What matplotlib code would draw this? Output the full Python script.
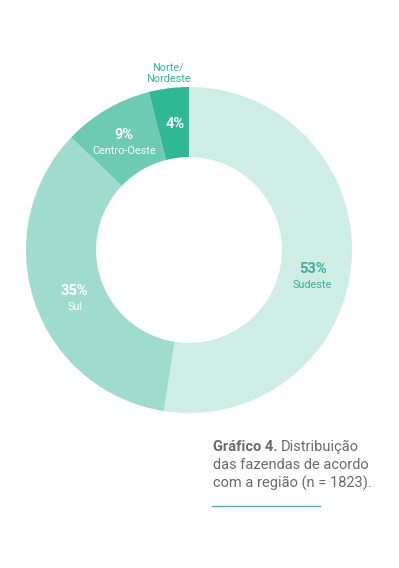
import numpy as np
import matplotlib.pyplot as plt

regioes = ['Sudeste', 'Sul', 'Centro-Oeste', 'Norte/\nNordeste']
percentuais = [53, 35, 9, 4]
cores = ['#cdede5', '#9fdccd', '#6dcbb3', '#30b896']
cor_pct = ['#3fae95', 'white', 'white', 'white']

plt.rcParams['font.family'] = ['Roboto', 'DejaVu Sans']

fig = plt.figure(figsize=(3.99, 5.68), dpi=100)
ax = fig.add_axes([0, 0, 1, 1])

cx, cy, r = 189, 318, 163
wedges, _ = ax.pie(percentuais, colors=cores, startangle=90, counterclock=False,
                   center=(cx, cy), radius=r,
                   wedgeprops=dict(width=r * 0.43, linewidth=0))
ax.set_xlim(0, 399)
ax.set_ylim(0, 568)
ax.set_aspect('equal')
ax.axis('off')

# pequenos ajustes de posição dos rótulos (dx, dy)
ajustes = [(-3, -9), (6, 0), (-1, 5), (2, 0)]

for i, w in enumerate(wedges):
    ang = np.deg2rad((w.theta1 + w.theta2) / 2)
    x = cx + 127 * np.cos(ang) + ajustes[i][0]
    y = cy + 127 * np.sin(ang) + ajustes[i][1]
    ax.text(x, y, f'{percentuais[i]}%', ha='center', va='center', fontsize=10.5,
            fontweight='bold', color=cor_pct[i])
    if i < 3:
        ax.text(x, y - 16, regioes[i], ha='center', va='center', fontsize=7.8,
                color='#3fae95' if i == 0 else 'white')
    else:
        ax.text(x - 7, cy + 177, regioes[i], ha='center', va='center', fontsize=7.8,
                color='#30b896', linespacing=1.2)

# legenda do gráfico
cinza = '#6b6b6b'
t1 = ax.text(213, 568 - 447, 'Gráfico 4.', fontsize=10.5, fontweight='bold',
             color=cinza, va='center')
fig.canvas.draw()
bb = t1.get_window_extent().transformed(ax.transData.inverted())
ax.text(bb.x1 + 3, 568 - 447, 'Distribuição', fontsize=10.5, color=cinza, va='center')
ax.text(213, 568 - 465, 'das fazendas de acordo', fontsize=10.5, color=cinza, va='center')
ax.text(213, 568 - 483, 'com a região (n = 1823).', fontsize=10.5, color=cinza, va='center')
ax.plot([212, 320], [568 - 506, 568 - 506], color='#5aaab0', linewidth=1)

fig.savefig('out.png', dpi=100)
